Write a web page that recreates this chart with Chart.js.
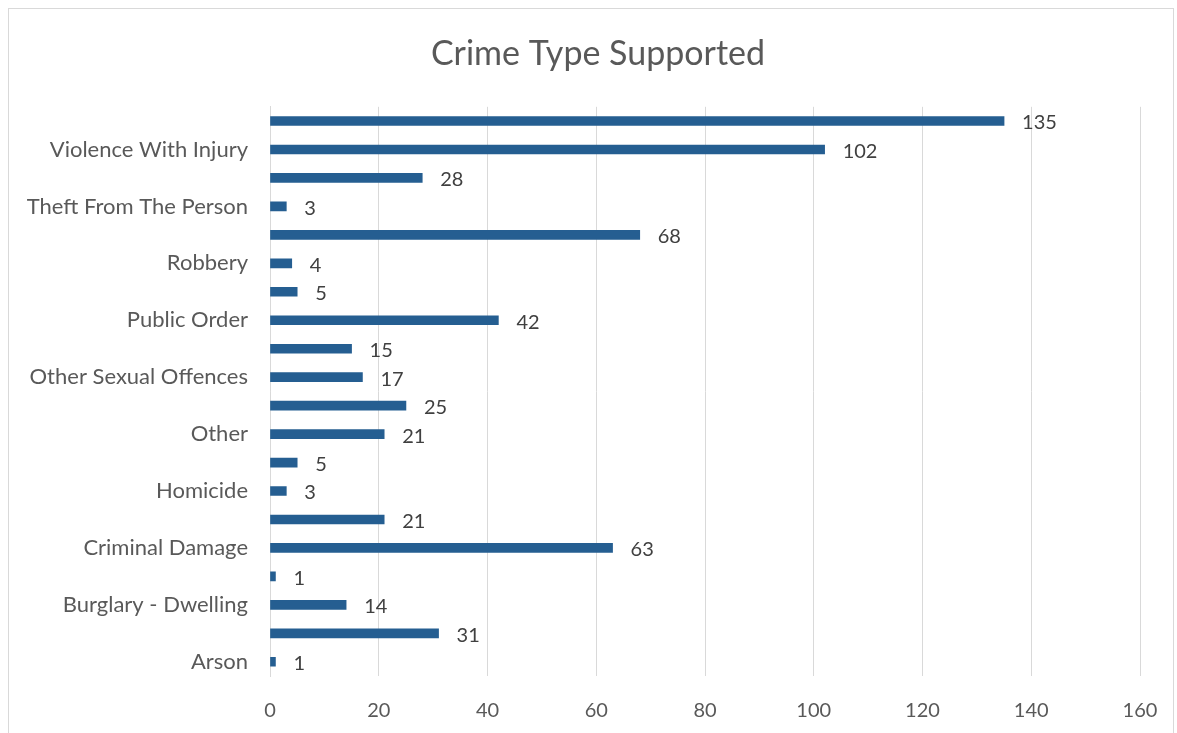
<!DOCTYPE html>
<html>
<head>
<meta charset="utf-8">
<script src="https://cdn.jsdelivr.net/npm/chart.js@4.4.1/dist/chart.umd.min.js"></script>
<style>
  html, body { margin: 0; padding: 0; background: #fff; }
  #wrap { position: relative; width: 1177px; height: 733px; }
  #frame { position: absolute; left: 8px; top: 8px; width: 1166px; height: 740px; border: 1px solid #d9d9d9; box-sizing: border-box; }
  canvas { position: absolute; left: 0; top: 0; }
</style>
</head>
<body>
<div id="wrap">
  <div id="frame"></div>
  <canvas id="chart" width="1177" height="733"></canvas>
</div>
<script>
// categories, bottom to top as in the picture (Chart.js draws first on top, so reversed below)
const categories = [
  'Arson',
  'Burglary - Business and Community',
  'Burglary - Dwelling',
  'Burglary - Other',
  'Criminal Damage',
  'Drug Offences',
  'Homicide',
  'Miscellaneous Crimes Against Society',
  'Other',
  'Other Theft',
  'Other Sexual Offences',
  'Possession of Weapons',
  'Public Order',
  'Rape',
  'Robbery',
  'Stalking and Harassment',
  'Theft From The Person',
  'Vehicle Offences',
  'Violence With Injury',
  'Violence Without Injury'
];
const counts = [1, 31, 14, 1, 63, 21, 3, 5, 21, 25, 17, 15, 42, 5, 4, 68, 3, 28, 102, 135];
const xTicks = [0, 20, 40, 60, 80, 100, 120, 140, 160];

const labels = categories.slice().reverse();
const values = counts.slice().reverse();
// only every other category name is shown, starting from the bottom one
const shownIdx = labels.map((_, i) => (labels.length - 1 - i) % 2 === 0);

const FONT = 'Lato, "Open Sans", sans-serif';

const valueLabels = {
  id: 'valueLabels',
  afterLayout(chart) {
    // centre the title over the framed area like the original
    if (chart.titleBlock) chart.titleBlock.left = 56;
  },
  afterDatasetsDraw(chart) {
    const ctx = chart.ctx;
    const meta = chart.getDatasetMeta(0);
    ctx.save();
    ctx.font = '20px ' + FONT;
    ctx.fillStyle = '#404040';
    ctx.textAlign = 'left';
    ctx.textBaseline = 'middle';
    meta.data.forEach((bar, i) => {
      ctx.fillText(String(values[i]), bar.x + 18, bar.y + 2);
    });
    ctx.restore();
  }
};

new Chart(document.getElementById('chart'), {
  type: 'bar',
  data: {
    labels: labels,
    datasets: [{
      data: values,
      backgroundColor: '#255e91',
      barThickness: 9
    }]
  },
  options: {
    indexAxis: 'y',
    responsive: false,
    animation: false,
    layout: { padding: { left: 0, right: 37, top: 0, bottom: 0 } },
    plugins: {
      legend: { display: false },
      tooltip: { enabled: false },
      title: {
        display: true,
        text: 'Crime Type Supported',
        color: '#595959',
        font: { family: FONT, size: 34, weight: 'normal' },
        padding: { top: 34, bottom: 32 }
      }
    },
    scales: {
      x: {
        min: 0,
        max: 160,
        afterBuildTicks(scale) { scale.ticks = xTicks.map(v => ({ value: v })); },
        afterFit(scale) {
          scale.height = 57;
          scale.paddingLeft = 0;
          scale.paddingRight = 0;
        },
        grid: { color: '#d9d9d9', drawTicks: false },
        border: { display: false },
        ticks: {
          color: '#595959',
          padding: 23,
          maxRotation: 0,
          font: { family: FONT, size: 20 }
        }
      },
      y: {
        afterFit(scale) { scale.width = 270; },
        grid: { display: false, drawTicks: false },
        border: { display: true, color: '#d9d9d9' },
        ticks: {
          autoSkip: false,
          color: '#595959',
          padding: 22,
          font: { family: FONT, size: 22 },
          callback(value, i) { return shownIdx[i] ? labels[i] : ''; }
        }
      }
    }
  },
  plugins: [valueLabels]
});
</script>
</body>
</html>
